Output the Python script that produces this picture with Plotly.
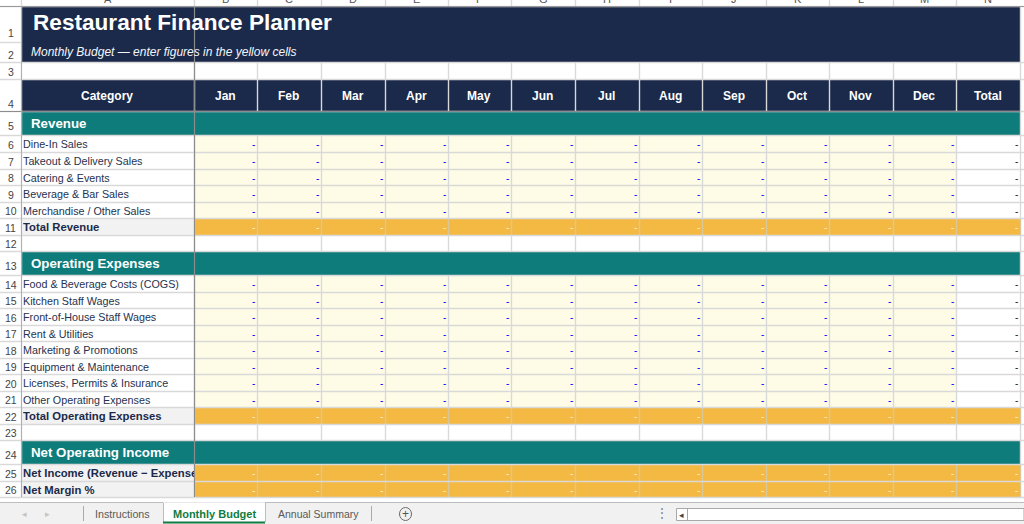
import plotly.graph_objects as go

# the sheet content
COLUMN_LETTERS = list("ABCDEFGHIJKLMN")
MONTHS = ["Jan", "Feb", "Mar", "Apr", "May", "Jun", "Jul", "Aug", "Sep", "Oct", "Nov", "Dec", "Total"]
TITLE = "Restaurant Finance Planner"
SUBTITLE = "Monthly Budget — enter figures in the yellow cells"
REVENUE_ROWS = ["Dine-In Sales", "Takeout & Delivery Sales", "Catering & Events", "Beverage & Bar Sales",
                "Merchandise / Other Sales"]
EXPENSE_ROWS = ["Food & Beverage Costs (COGS)", "Kitchen Staff Wages", "Front-of-House Staff Wages",
                "Rent & Utilities", "Marketing & Promotions", "Equipment & Maintenance",
                "Licenses, Permits & Insurance", "Other Operating Expenses"]
NET_ROWS = ["Net Income (Revenue − Expenses)", "Net Margin %"]
TABS = ["Instructions", "Monthly Budget", "Annual Summary"]
EMPTY_VALUE = "-"

# layout of the grid, in screen pixels
COL_EDGES = [21, 194, 257, 321, 385, 448, 511, 575, 639, 702, 766, 829, 893, 956, 1020]
ROW_EDGES = [6, 42, 62, 79, 111, 135, 152, 169, 185, 202, 218, 235, 251, 275, 292, 308, 325, 341, 358,
             374, 391, 407, 424, 440, 464, 481, 497]

NAVY = "#1B2A4A"
TEAL = "#0E7C7B"
ORANGE = "#F4B942"
CREAM = "#FEFCE6"
LABEL_GREY = "#F2F2F2"
WHITE = "#FFFFFF"
GRID = "#D9D9D9"
FREEZE = "#8C8C8C"
FONT = "Liberation Sans"

rows = ([("title", TITLE), ("subtitle", SUBTITLE), ("blank", ""), ("header", "Category"), ("section", "Revenue")]
        + [("input", r) for r in REVENUE_ROWS] + [("total", "Total Revenue"), ("blank", ""),
                                                  ("section", "Operating Expenses")]
        + [("input", r) for r in EXPENSE_ROWS] + [("total", "Total Operating Expenses"), ("blank", ""),
                                                  ("section", "Net Operating Income")]
        + [("total", r) for r in NET_ROWS])

fill_codes = {WHITE: 0, CREAM: 1, LABEL_GREY: 2, ORANGE: 3, TEAL: 4, NAVY: 5}
scale_colors = list(fill_codes)
colorscale = []
for i, c in enumerate(scale_colors):
    colorscale += [[i / 6, c], [(i + 1) / 6, c]]


def row_fills(kind):
    if kind in ("title", "subtitle", "header"):
        return [NAVY] * 14
    if kind == "section":
        return [TEAL] * 14
    if kind == "input":
        return [WHITE] + [CREAM] * 12 + [WHITE]
    if kind == "total":
        return [LABEL_GREY] + [ORANGE] * 13
    return [WHITE] * 14


z = [[fill_codes[c] for c in row_fills(kind)] for kind, _ in rows]

fig = go.Figure()
# z + 0.5 keeps every code in the middle of its colour band
fig.add_trace(go.Heatmap(x=COL_EDGES, y=ROW_EDGES, z=[[v + 0.5 for v in r] for r in z], colorscale=colorscale,
                         zmin=0, zmax=6, showscale=False, hoverinfo="skip"))

shapes = []
ann = []


def line(x0, y0, x1, y1, color=GRID, width=1.4):
    shapes.append(dict(type="line", x0=x0, y0=y0, x1=x1, y1=y1, line=dict(color=color, width=width), layer="above"))


def rect(x0, y0, x1, y1, fill, color=None, width=1):
    shapes.append(dict(type="rect", x0=x0, y0=y0, x1=x1, y1=y1, fillcolor=fill, layer="above",
                       line=dict(color=color or fill, width=width if color else 0)))


def text(x, y, s, size, color, anchor="left", bold=False, italic=False, **kw):
    if bold:
        s = "<b>%s</b>" % s
    if italic:
        s = "<i>%s</i>" % s
    ann.append(dict(x=x, y=y, text=s, showarrow=False, xanchor=anchor, yanchor="middle", borderpad=0,
                    font=dict(family=FONT, size=size, color=color), **kw))


# vertical grid lines
for j, edge in enumerate(COL_EDGES):
    for i, (kind, _) in enumerate(rows):
        y0, y1 = ROW_EDGES[i], ROW_EDGES[i + 1]
        if kind in ("title", "subtitle", "section") and j not in (0, 14):
            continue
        if kind == "total":
            color = "#D9C79A" if j > 1 else GRID
        elif kind == "header":
            color = "#D8D8D8"
        else:
            color = GRID
        line(edge + 0.5, y0, edge + 0.5, y1, color)

# horizontal grid lines, also through the row header strip
for i, edge in enumerate(ROW_EDGES):
    if i == 1:
        line(0, edge + 0.5, COL_EDGES[0], edge + 0.5)
        continue
    line(0, edge + 0.5, 1024, edge + 0.5, GRID)

# frozen pane lines and the header strips
line(194.5, 6, 194.5, 497, FREEZE, 1.2)
line(0, 111.5, 1020, 111.5, FREEZE, 1.2)
line(0, 6.5, 1024, 6.5, "#9A9A9A", 1)
line(21.5, 6, 21.5, 497, "#B0B0B0", 1)
line(0, 497.5, 1024, 497.5, GRID, 1)

# column letters sit mostly above the window edge, only their feet show
for j, letter in enumerate(COLUMN_LETTERS):
    text((COL_EDGES[j] + COL_EDGES[j + 1]) / 2, 0, letter, 11, "#555555", "center", yshift=1)
    line(COL_EDGES[j] + 0.5, 0, COL_EDGES[j] + 0.5, 6, GRID)

# row numbers, bottom aligned like the sheet
for i, (kind, _) in enumerate(rows):
    lift = 9 if kind in ("title", "section") else 7.5
    text(10.5, ROW_EDGES[i + 1] - lift, str(i + 1), 10.5, "#444444", "center")

# sheet text
for i, (kind, label) in enumerate(rows):
    y = (ROW_EDGES[i] + ROW_EDGES[i + 1]) / 2
    if kind == "title":
        text(32, y - 1.5, label, 22.6, WHITE, bold=True)
    elif kind == "subtitle":
        text(30, y, label, 12, "#F3F6FA", italic=True)
    elif kind == "section":
        text(30, y, label, 13.3, WHITE, bold=True)
    elif kind == "header":
        text(107, y + 0.5, label, 12, WHITE, "center", bold=True)
        for j, m in enumerate(MONTHS):
            text((COL_EDGES[j + 1] + COL_EDGES[j + 2]) / 2 - 0.5, y + 0.5, m, 12, WHITE, "center", bold=True)
    elif kind in ("input", "total"):
        if kind == "total":
            text(22, y + 0.5, label, 11.3, NAVY, bold=True, width=171, align="left")
        else:
            text(22, y + 0.5, label, 10.75, "#26324F", width=171, align="left")
        for j in range(13):
            if kind == "total":
                color = "#FBEBC4"
            elif j == 12:
                color = "#222222"
            else:
                color = "#0000FF"
            text(COL_EDGES[j + 2] - 1, y + 1, EMPTY_VALUE, 10, color, "right")

# sheet tab bar
rect(0, 503, 1024, 524, "#F1F1F1")
line(0, 502.5, 1024, 502.5, "#BDBDBD", 1)
for x in (83, 371):
    line(x + 0.5, 506, x + 0.5, 521, "#ABABAB", 1)
rect(163, 503, 265, 523, WHITE)
line(163.5, 503, 163.5, 522, "#BDBDBD", 1)
line(265.5, 503, 265.5, 522, "#BDBDBD", 1)
line(163, 522.5, 265, 522.5, "#107C41", 2)
line(163, 502.5, 265, 502.5, "#E8E8E8", 1)
text(122, 514, TABS[0], 10.7, "#595959", "center")
text(214, 514, TABS[1], 11, "#107C41", "center", bold=True)
text(318, 514, TABS[2], 10.5, "#595959", "center")
text(24, 514, "◂", 9, "#C4C4C4", "center")
text(47, 514, "▸", 9, "#C4C4C4", "center")
shapes.append(dict(type="circle", x0=399.5, y0=507.5, x1=411.5, y1=520.5, line=dict(color="#6A6A6A", width=1),
                   layer="above"))
text(405.5, 514, "+", 12, "#555555", "center")
text(662, 513, "⋮", 12, "#7A7A7A", "center")
rect(676.5, 508.5, 1024, 520.5, WHITE, "#A8A8A8")
line(687.5, 509, 687.5, 520, "#A8A8A8", 1)
text(681.5, 514.5, "◂", 9, "#444444", "center")

fig.update_layout(
    width=1024, height=524, margin=dict(l=0, r=0, t=0, b=0), paper_bgcolor=WHITE, plot_bgcolor=WHITE,
    showlegend=False, shapes=shapes, annotations=ann,
    xaxis=dict(range=[0, 1024], visible=False, fixedrange=True),
    yaxis=dict(range=[524, 0], visible=False, fixedrange=True),
)
# the page's default body margin would push the sheet 8px down and right
fig.write_html("out.html", config={"displayModeBar": False},
               post_script="document.body.style.margin='0';document.body.style.overflow='hidden';")
